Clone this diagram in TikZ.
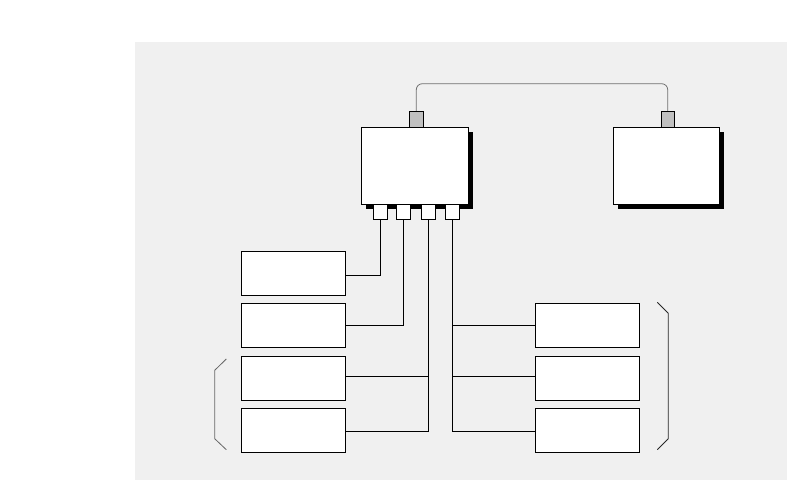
\documentclass[tikz,border=0pt]{standalone}
\usepackage{tikz}
\usetikzlibrary{shadows}
\definecolor{panel}{HTML}{F0F0F0}
\definecolor{plug}{HTML}{C0C0C0}
\definecolor{cablegray}{HTML}{707070}

\begin{document}
\begin{tikzpicture}[
  x=1pt, y=-1pt,
  line width=0.8pt,
  unit/.style={draw, fill=white, minimum width=107pt, minimum height=77pt, inner sep=0pt,
    drop shadow={shadow xshift=5pt, shadow yshift=-5pt, fill=black, opacity=1}},
  dev/.style={draw, fill=white, minimum width=104pt, minimum height=44pt, inner sep=0pt},
  plugbox/.style={draw, fill=plug, minimum width=14pt, minimum height=16pt, inner sep=0pt},
  port/.style={draw, fill=white, minimum width=14pt, minimum height=15pt, inner sep=0pt},
  bracket/.style={draw=black!60, line width=0.8pt}
]
\useasboundingbox (0,0) rectangle (787,480);
\fill[panel] (135,42) rectangle (787,480);

% two units with their plugs
\node[unit] (hub) at (414.8,165.8) {};
\node[unit, minimum width=106pt] (remote) at (666.3,165.8) {};
\node[plugbox] (ph) at (416.3,119.3) {};
\node[plugbox, minimum width=13pt] (pr) at (667.7,119.3) {};
\coordinate (ctop) at (0,83.7);
\draw[cablegray, rounded corners=6pt] (ph.north) -- (ph.north |- ctop) -- (pr.north |- ctop) -- (pr.north);

% ports under the hub
\node[port] (p1) at (380.2,211.8) {};
\node[port] (p2) at (403.5,211.8) {};
\node[port] (p3) at (428.3,211.8) {};
\node[port] (p4) at (452.3,211.8) {};

% devices
\node[dev] (l1) at (293.3,273.3) {};
\node[dev] (l2) at (293.3,325.3) {};
\node[dev] (l3) at (293.3,378.3) {};
\node[dev] (l4) at (293.3,430.3) {};
\node[dev] (r1) at (587.3,325.3) {};
\node[dev] (r2) at (587.3,378.3) {};
\node[dev] (r3) at (587.3,430.3) {};

\draw ([yshift=-1.7pt]l1.east) -| (p1.south);
\draw (l2.east) -| (p2.south);
\draw ([yshift=2pt]l3.east) -| (p3.south);
\draw ([yshift=-1pt]l4.east) -| (p3.south);
\draw (r1.west) -| (p4.south);
\draw ([yshift=2pt]r2.west) -| (p4.south);
\draw ([yshift=-1pt]r3.west) -| (p4.south);

% brackets
\draw[bracket] (226.3,359) -- (214.7,370.3) -- (214.7,438.7) -- (226.3,449.7);
\draw[bracket, draw=black!85] (657.3,302.3) -- (668.3,313.3) -- (668.3,438.7) -- (657.3,449.7);
\end{tikzpicture}
\end{document}
